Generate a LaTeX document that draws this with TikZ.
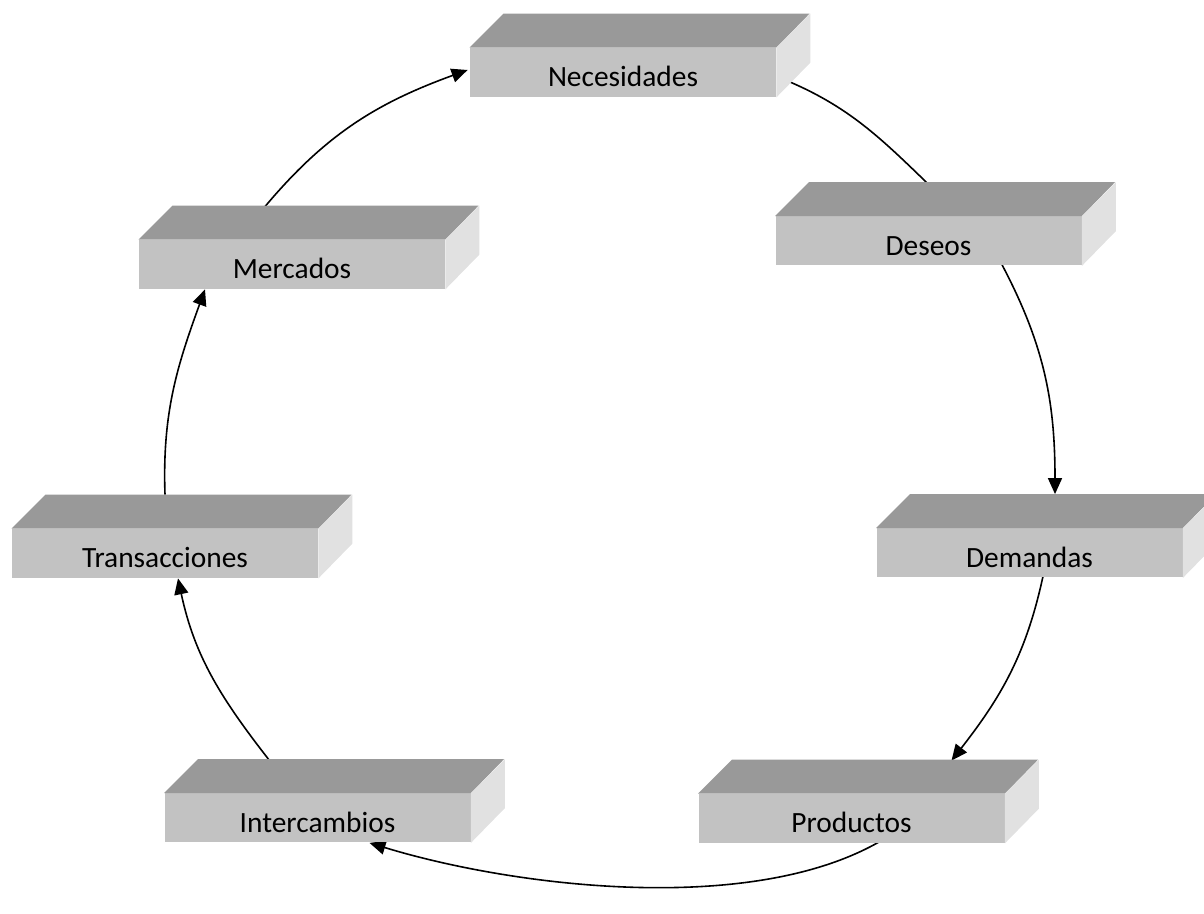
\documentclass[tikz,border=0pt]{standalone}
\usepackage{fontspec}
\setmainfont{Carlito}
\usepackage{tikz}
\usetikzlibrary{arrows.meta}
\usetikzlibrary{backgrounds}
\definecolor{frente}{HTML}{C2C2C2}
\definecolor{tapa}{HTML}{999999}
\definecolor{lado}{HTML}{E1E1E1}

\begin{document}
\begin{tikzpicture}[x=0.5pt, y=0.5pt,
    caja/.style={fill=frente, minimum width=153pt, minimum height=24.5pt, inner sep=0pt,
        text height=17pt, text depth=2.5pt, font=\fontsize{14.7}{16}\selectfont},
    flecha/.style={line width=0.8pt, -{Triangle[length=8pt,width=7pt]}}]
    \useasboundingbox (0,0) rectangle (1204,914);

    \node[caja] (nec) at (623,841.5) {Necesidades};
    \node[caja] (des) at (928.5,673) {Deseos};
    \node[caja] (dem) at (1029.5,361) {Demandas};
    \node[caja] (pro) at (851.5,95.5) {Productos};
    \node[caja] (int) at (317.5,96) {Intercambios};
    \node[caja] (tra) at (165,360.5) {Transacciones};
    \node[caja] (mer) at (292,649.5) {Mercados};

    \foreach \n in {nec,des,dem,pro,int,tra,mer} {
        \fill[tapa] (\n.north west) -- ++(34,34) -- ++(306,0) -- (\n.north east) -- cycle;
        \fill[lado] (\n.north east) -- ++(34,34) -- ++(0,-49) -- (\n.south east) -- cycle;
    }

    \begin{scope}[on background layer]
        \draw[flecha] ([xshift=-13.5pt,yshift=16.5pt]mer.north) to[out=50,in=200] ([xshift=-1pt,yshift=1.25pt]nec.west);
        \draw[line width=0.8pt] ([xshift=2pt,yshift=-2.75pt]nec.east) to[out=-22,in=136] ([xshift=4pt,yshift=12pt]des.north);
        \draw[flecha] ([xshift=36pt,yshift=2pt]des.south) to[out=-62,in=90] ([xshift=12.75pt,yshift=17pt]dem.north);
        \draw[flecha] ([xshift=7pt,yshift=2pt]dem.south) to[out=-102,in=52] ([xshift=50pt,yshift=16.5pt]pro.north);
        \draw[flecha] ([xshift=14.25pt,yshift=1pt]pro.south) to[out=-150,in=-17,looseness=0.75] ([xshift=26pt]int.south);
        \draw[flecha] ([xshift=-23pt,yshift=15pt]int.north) to[out=128,in=-78] ([xshift=6.5pt]tra.south);
        \draw[flecha] ([yshift=17pt]tra.north) to[out=92,in=-110] ([xshift=-43.5pt]mer.south);
    \end{scope}
\end{tikzpicture}
\end{document}
